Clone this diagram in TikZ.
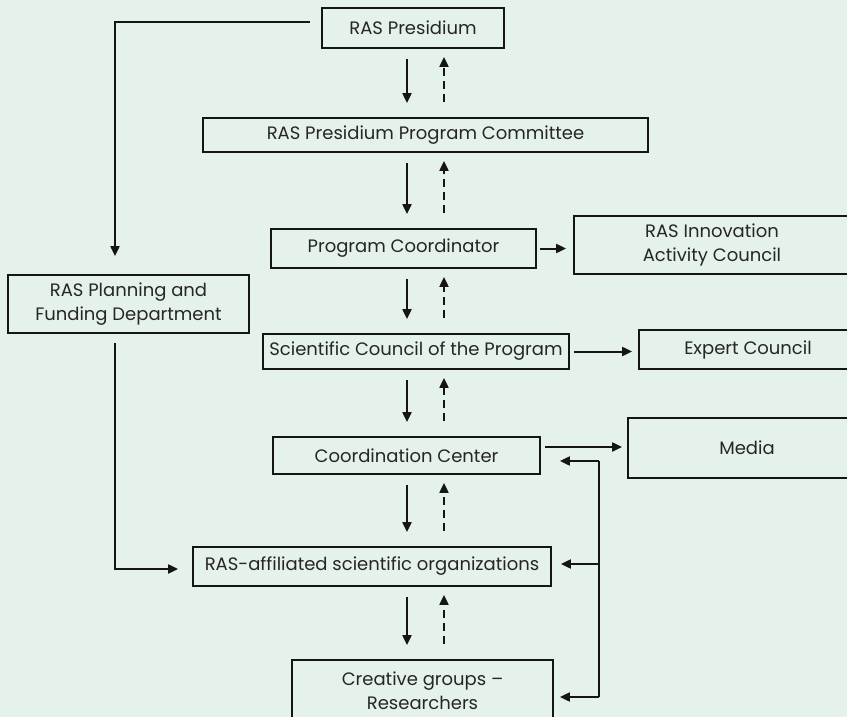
\documentclass[tikz,border=0pt]{standalone}
\usepackage{fontspec}
\setmainfont{Poppins}
\usetikzlibrary{arrows.meta}
\definecolor{bgc}{HTML}{E4F2E9}
\definecolor{inkc}{HTML}{151515}
\definecolor{txc}{HTML}{262626}
\begin{document}
\begin{tikzpicture}[x=1pt,y=-1pt,
  box/.style={draw=inkc, line width=1.8pt, rectangle, inner sep=0pt, align=center, text=txc,
              font=\fontsize{18}{24}\selectfont},
  plain/.style={draw=inkc, line width=2pt},
  arr/.style={plain, -{Triangle[length=10pt,width=9pt]}},
  dnarr/.style={arr, shorten <=10pt, shorten >=14pt},
  uparr/.style={arr, dash pattern=on 8pt off 5pt, shorten <=15pt, shorten >=8pt}]
\useasboundingbox (0,0) rectangle (847,717);
\clip (0,0) rectangle (847,717);
\fill[bgc] (0,0) rectangle (847,717);

\node[box, minimum width=182pt, minimum height=40pt] (pres) at (413,28) {RAS Presidium};
\node[box, minimum width=445pt, minimum height=34pt] (comm) at (425.5,135) {RAS Presidium Program Committee};
\node[box, minimum width=265pt, minimum height=39pt] (pc) at (403.5,248.5) {Program Coordinator};
\node[box, minimum width=276pt, minimum height=58pt] (innov) at (712,245) {RAS Innovation\\Activity Council};
\node[box, minimum width=241pt, minimum height=58pt] (plan) at (128.5,304) {RAS Planning and\\Funding Department};
\node[box, minimum width=306pt, minimum height=35pt] (sci) at (416,351.5) {Scientific Council of the Program};
\node[box, minimum width=218pt, minimum height=39pt] (exp) at (748,349.5) {Expert Council};
\node[box, minimum width=267pt, minimum height=37pt] (cc) at (406.5,455.5) {Coordination Center};
\node[box, minimum width=238pt, minimum height=60pt] (media) at (747,448) {Media};
\node[box, minimum width=358pt, minimum height=39pt] (org) at (372,566.5) {RAS-affiliated scientific organizations};
\node[box, minimum width=261pt, minimum height=62pt] (cg) at (422.5,691) {Creative groups –\\Researchers};

% left feed lines
\coordinate (L1) at (115,22);
\coordinate (L2) at (115,343);
\draw[arr, shorten >=18pt] ([xshift=-11pt,yshift=6pt]pres.west) -- (L1) -- (L1 |- plan.north);
\draw[arr] (L2) |- ([xshift=-14pt,yshift=-2.5pt]org.west);

% side arrows
\draw[arr, shorten <=3pt, shorten >=7pt] (pc.east) -- (innov.west |- pc.east);
\draw[arr, shorten <=4pt, shorten >=6pt] (sci.east) -- (exp.west |- sci.east);
\coordinate (m1) at ([yshift=8.5pt]cc.east);
\draw[arr, shorten <=4pt, shorten >=5pt] (m1) -- (media.west |- m1);

% return bracket
\coordinate (b1) at (599,461);
\coordinate (b2) at (599,564);
\coordinate (b3) at (599,697);
\draw[plain] (b1) -- (b3);
\draw[arr, shorten >=19pt] (b1) -- (cc.east |- b1);
\draw[arr, shorten >=9pt] (b2) -- (org.east |- b2);
\draw[arr, shorten >=6pt] (b3) -- (cg.east |- b3);

% vertical pairs
\coordinate (dx) at (407,0);
\coordinate (ux) at (444,0);
\foreach \a/\b in {pres/comm, comm/pc, pc/sci, sci/cc, cc/org, org/cg}{
  \draw[dnarr] (dx |- \a.south) -- (dx |- \b.north);
  \draw[uparr] (ux |- \b.north) -- (ux |- \a.south);
}
\end{tikzpicture}
\end{document}
